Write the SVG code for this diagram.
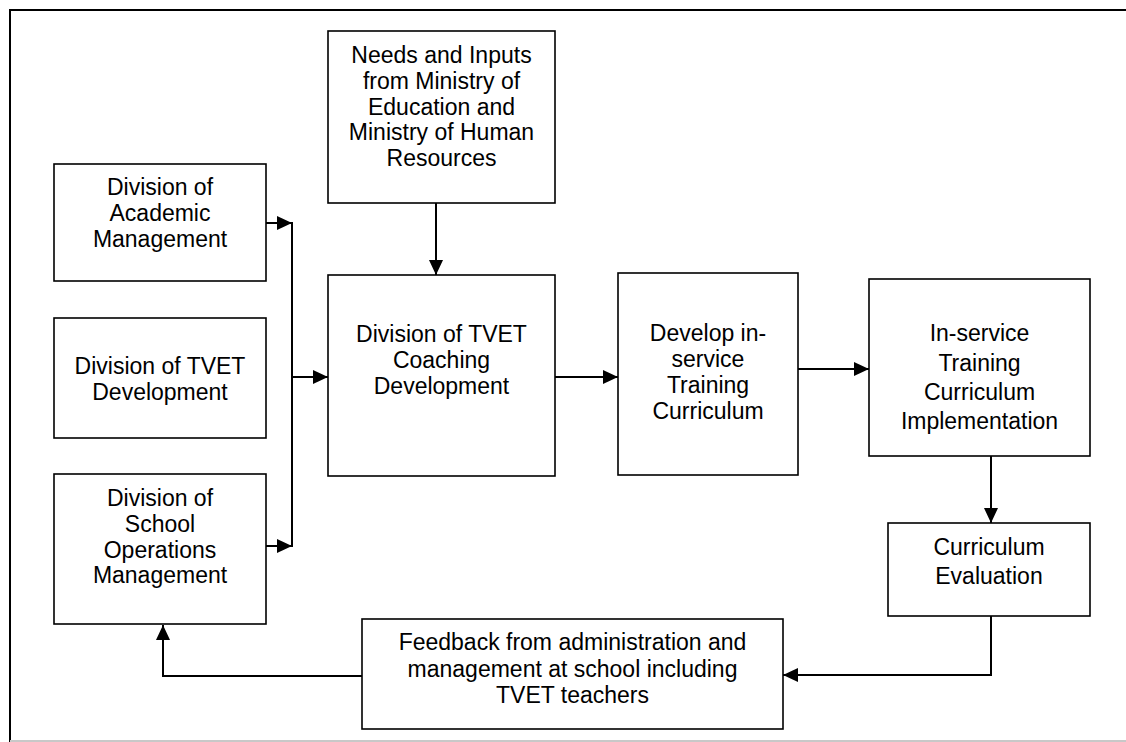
<svg xmlns="http://www.w3.org/2000/svg" width="1126" height="742" viewBox="0 0 1126 742">
<style>
.box{fill:#fff;stroke:#000;stroke-width:1.6}
.t{font-family:"Liberation Sans",Arial,sans-serif;font-size:23px;fill:#000;text-anchor:middle}
.c{fill:none;stroke:#000;stroke-width:2}
</style>
<defs>
<marker id="ah" markerUnits="userSpaceOnUse" markerWidth="16" markerHeight="14" refX="15" refY="7" orient="auto">
<path d="M0,0 L15,7 L0,14 z" fill="#000"/>
</marker>
</defs>
<rect width="1126" height="742" fill="#fff"/>
<path d="M10,742 V10 H1126" fill="none" stroke="#000" stroke-width="2"/>
<line x1="10" y1="741" x2="1126" y2="741" stroke="#c8c8c8" stroke-width="2"/>

<g id="needs">
<rect class="box" x="328" y="31" width="227" height="172"/>
<text class="t" x="441.5" y="63">Needs and Inputs</text>
<text class="t" x="441.5" y="89">from Ministry of</text>
<text class="t" x="441.5" y="115">Education and</text>
<text class="t" x="441.5" y="140">Ministry of Human</text>
<text class="t" x="441.5" y="166">Resources</text>
</g>
<g id="academic">
<rect class="box" x="54" y="164" width="212" height="117"/>
<text class="t" x="160" y="195">Division of</text>
<text class="t" x="160" y="221">Academic</text>
<text class="t" x="160" y="247">Management</text>
</g>
<g id="tvetdev">
<rect class="box" x="54" y="318" width="212" height="120"/>
<text class="t" x="160" y="374">Division of TVET</text>
<text class="t" x="160" y="400">Development</text>
</g>
<g id="schoolops">
<rect class="box" x="54" y="474" width="212" height="150"/>
<text class="t" x="160" y="506">Division of</text>
<text class="t" x="160" y="532">School</text>
<text class="t" x="160" y="558">Operations</text>
<text class="t" x="160" y="583">Management</text>
</g>
<g id="coaching">
<rect class="box" x="328" y="275" width="227" height="201"/>
<text class="t" x="441.5" y="342">Division of TVET</text>
<text class="t" x="441.5" y="368">Coaching</text>
<text class="t" x="441.5" y="394">Development</text>
</g>
<g id="develop">
<rect class="box" x="618" y="273" width="180" height="202"/>
<text class="t" x="708" y="341">Develop in-</text>
<text class="t" x="708" y="367">service</text>
<text class="t" x="708" y="393">Training</text>
<text class="t" x="708" y="419">Curriculum</text>
</g>
<g id="implementation">
<rect class="box" x="869" y="279" width="221" height="177"/>
<text class="t" x="979.5" y="341">In-service</text>
<text class="t" x="979.5" y="371">Training</text>
<text class="t" x="979.5" y="400">Curriculum</text>
<text class="t" x="979.5" y="429">Implementation</text>
</g>
<g id="evaluation">
<rect class="box" x="888" y="523" width="202" height="93"/>
<text class="t" x="989" y="555">Curriculum</text>
<text class="t" x="989" y="584">Evaluation</text>
</g>
<g id="feedback">
<rect class="box" x="362" y="619" width="421" height="110"/>
<text class="t" x="572.5" y="650">Feedback from administration and</text>
<text class="t" x="572.5" y="677">management at school including</text>
<text class="t" x="572.5" y="703">TVET teachers</text>
</g>

<g id="connectors">
<line class="c" x1="266" y1="223" x2="292" y2="223" marker-end="url(#ah)"/>
<line class="c" x1="292" y1="222" x2="292" y2="547"/>
<line class="c" x1="266" y1="546" x2="292" y2="546" marker-end="url(#ah)"/>
<line class="c" x1="292" y1="377" x2="328" y2="377" marker-end="url(#ah)"/>
<line class="c" x1="436" y1="203" x2="436" y2="275" marker-end="url(#ah)"/>
<line class="c" x1="555" y1="377" x2="618" y2="377" marker-end="url(#ah)"/>
<line class="c" x1="798" y1="369" x2="869" y2="369" marker-end="url(#ah)"/>
<line class="c" x1="991" y1="456" x2="991" y2="523" marker-end="url(#ah)"/>
<polyline class="c" points="991,616 991,675 783,675" marker-end="url(#ah)"/>
<polyline class="c" points="362,676 163,676 163,625" marker-end="url(#ah)"/>
</g>
</svg>
